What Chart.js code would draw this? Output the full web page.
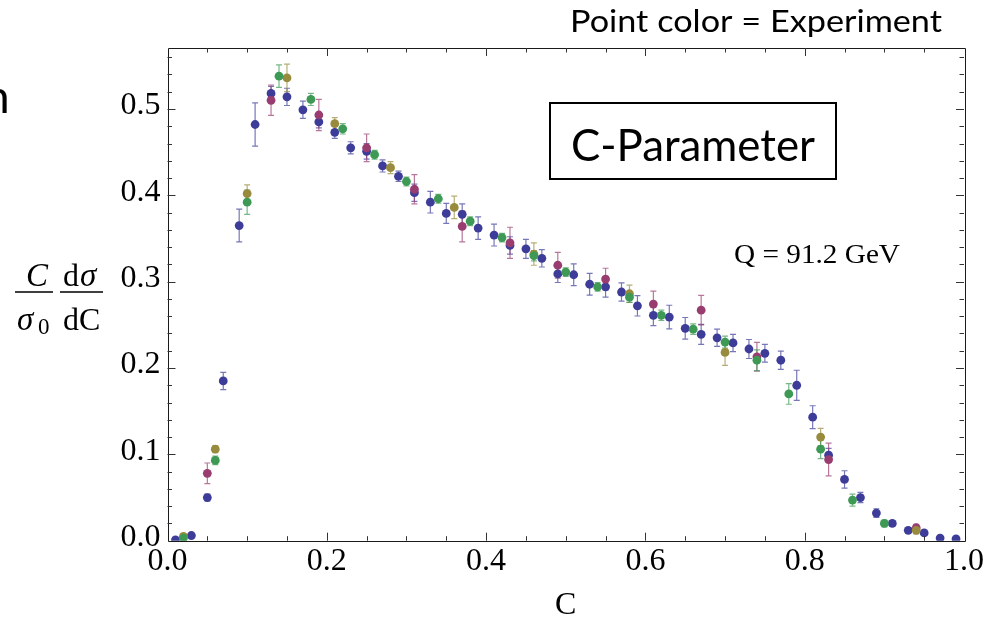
<!DOCTYPE html>
<html><head><meta charset="utf-8">
<script src="https://cdn.jsdelivr.net/npm/chart.js@4.4.1/dist/chart.umd.min.js"></script>
<style>html,body{margin:0;padding:0;background:#fff;overflow:hidden}#wrap{width:986px;height:621px;position:relative}canvas{display:block}</style>
</head><body><div id="wrap"><canvas id="c" width="986" height="621"></canvas></div>
<script>
// ---- data ----
const blueC = [0.01,0.03,0.05,0.07,0.09,0.11,0.13,0.15,0.17,0.19,0.21,0.23,0.25,0.27,0.29,0.31,0.33,0.35,0.37,0.39,0.41,0.43,0.45,0.47,0.49,0.51,0.53,0.55,0.57,0.59,0.61,0.63,0.65,0.67,0.69,0.71,0.73,0.75,0.77,0.79,0.81,0.83,0.85,0.87,0.89,0.91,0.93,0.95,0.97,0.99];
const blueY = [0.001,0.006,0.050,0.185,0.365,0.482,0.518,0.514,0.499,0.485,0.473,0.455,0.451,0.434,0.422,0.403,0.392,0.379,0.378,0.362,0.354,0.342,0.338,0.327,0.309,0.308,0.297,0.294,0.288,0.272,0.261,0.259,0.246,0.239,0.235,0.229,0.222,0.217,0.209,0.180,0.143,0.099,0.071,0.050,0.032,0.020,0.012,0.009,0.003,0.002];
const blueErr = [0.001,0.002,0.004,0.010,0.019,0.025,0.008,0.010,0.010,0.007,0.007,0.007,0.009,0.007,0.006,0.010,0.0125,0.0116,0.012,0.013,0.0127,0.010,0.011,0.010,0.010,0.0125,0.0125,0.012,0.0106,0.0118,0.012,0.0137,0.0125,0.0116,0.010,0.010,0.011,0.0103,0.0106,0.0174,0.0133,0.008,0.010,0.006,0.005,0.003,0.003,0.003,0.002,0.001];

const greenC = [0.02,0.06,0.10,0.14,0.18,0.22,0.26,0.30,0.34,0.38,0.42,0.46,0.50,0.54,0.58,0.62,0.66,0.70,0.74,0.78,0.82,0.86,0.90];
const greenY = [0.003,0.093,0.392,0.538,0.511,0.477,0.447,0.416,0.396,0.370,0.351,0.330,0.311,0.294,0.282,0.261,0.245,0.230,0.209,0.170,0.106,0.047,0.020];
const greenErr = [0.002,0.005,0.014,0.013,0.007,0.006,0.005,0.005,0.005,0.005,0.005,0.006,0.005,0.005,0.006,0.006,0.006,0.007,0.012,0.012,0.011,0.007,0.004];

const oliveC = [0.02,0.06,0.10,0.15,0.21,0.28,0.36,0.46,0.58,0.70,0.82,0.94];
const oliveY = [0.005,0.106,0.402,0.536,0.483,0.432,0.386,0.332,0.286,0.218,0.120,0.012];
const oliveErr = [0.002,0.004,0.010,0.016,0.007,0.007,0.013,0.013,0.010,0.015,0.010,0.004];

const magC = [0.05,0.13,0.19,0.25,0.31,0.37,0.43,0.49,0.55,0.61,0.67,0.74,0.83,0.94];
const magY = [0.078,0.510,0.493,0.455,0.407,0.364,0.345,0.319,0.303,0.274,0.267,0.213,0.094,0.015];
const magErr = [0.012,0.0175,0.018,0.016,0.017,0.018,0.018,0.015,0.0125,0.015,0.017,0.0166,0.019,0.004];

const xTickLabels = ['0.0','0.2','0.4','0.6','0.8','1.0'];
const yTickLabels = ['0.0','0.1','0.2','0.3','0.4','0.5'];

// ---- styling ----
const COL = {
  blue: [61,61,153], mag: [153,61,113], olive: [153,139,61], green: [61,153,84]
};
const rgb = (c,a) => a===undefined ? `rgb(${c[0]},${c[1]},${c[2]})` : `rgba(${c[0]},${c[1]},${c[2]},${a})`;

function pts(xs, ys, es){ return xs.map((x,i)=>({x:x, y:ys[i], e:es[i]})); }
function ds(label, xs, ys, es, c){
  return { label, data: pts(xs,ys,es), backgroundColor: rgb(c), borderColor: rgb(c), borderWidth: 0,
    pointRadius: 4.4, pointHoverRadius: 4.4, showLine:false, clip: 0, errColor: rgb(c,0.7) };
}

const SERIF = '"Liberation Serif","DejaVu Serif",serif';
const SANS = 'Lato, "Open Sans", sans-serif';

const errorBars = {
  id:'errorBars',
  beforeDatasetsDraw(chart){
    const ctx = chart.ctx, xs = chart.scales.x, ys = chart.scales.y, a = chart.chartArea;
    ctx.save();
    ctx.beginPath(); ctx.rect(a.left, a.top, a.right-a.left, a.bottom-a.top); ctx.clip();
    for (let d = chart.data.datasets.length-1; d>=0; d--){
      const set = chart.data.datasets[d];
      ctx.strokeStyle = set.errColor; ctx.lineWidth = 1.2;
      set.data.forEach(p=>{
        if (!p.e) return;
        const px = xs.getPixelForValue(p.x);
        const y1 = ys.getPixelForValue(p.y + p.e), y2 = ys.getPixelForValue(p.y - p.e);
        if (Math.abs(y2-y1) < 3) return;
        ctx.beginPath();
        ctx.moveTo(px, y1); ctx.lineTo(px, y2);
        ctx.moveTo(px-3, y1); ctx.lineTo(px+3, y1);
        ctx.moveTo(px-3, y2); ctx.lineTo(px+3, y2);
        ctx.stroke();
      });
    }
    ctx.restore();
  }
};

function fitText(ctx, text, font, x, y, width){
  ctx.font = font;
  const w = ctx.measureText(text).width;
  ctx.save(); ctx.translate(x, y); ctx.scale(width/w, 1); ctx.fillText(text, 0, 0); ctx.restore();
}

const frameTicks = {
  id:'frameTicks',
  afterDatasetsDraw(chart){
    const ctx = chart.ctx, xs = chart.scales.x, ys = chart.scales.y, a = chart.chartArea;
    ctx.save();
    ctx.strokeStyle = '#1a1a1a'; ctx.lineWidth = 1;
    ctx.beginPath();
    ctx.rect(Math.round(a.left)+0.5, Math.round(a.top)+0.5, Math.round(a.right-a.left), Math.round(a.bottom-a.top));
    ctx.stroke();
    ctx.strokeStyle = '#333'; ctx.lineWidth = 1;
    ctx.beginPath();
    for (let k=1;k<20;k++){
      const v = k*0.05, px = Math.round(xs.getPixelForValue(v))+0.5;
      const L = (k%4===0) ? 8 : 4.5;
      ctx.moveTo(px, a.bottom); ctx.lineTo(px, a.bottom-L);
      ctx.moveTo(px, a.top); ctx.lineTo(px, a.top+L);
    }
    for (let k=1;k<=28;k++){
      const v = k*0.02; if (v > ys.max) break;
      const py = Math.round(ys.getPixelForValue(v))+0.5;
      const L = (k%5===0) ? 8 : 4.5;
      ctx.moveTo(a.left, py); ctx.lineTo(a.left+L, py);
      ctx.moveTo(a.right, py); ctx.lineTo(a.right-L, py);
    }
    ctx.stroke();
    ctx.restore();
  },
  afterDraw(chart){
    const ctx = chart.ctx, a = chart.chartArea;
    ctx.save();
    ctx.fillStyle = '#000';
    ctx.textBaseline = 'alphabetic'; ctx.textAlign = 'left';
    // top-right note
    fitText(ctx, 'Point color = Experiment', '31px ' + SANS, 570, 32, 372);
    // cropped letter at left edge
    ctx.font = '46px ' + SANS;
    ctx.fillText('n', -16, 113);
    // C-Parameter box
    ctx.lineWidth = 2; ctx.strokeStyle = '#000';
    ctx.strokeRect(550, 103, 286, 76);
    fitText(ctx, 'C-Parameter', '44px ' + SANS, 571, 161, 244);
    // Q label
    fitText(ctx, 'Q = 91.2 GeV', '28px ' + SERIF, 734, 263, 166);
    // x axis title
    ctx.font = '32px ' + SERIF; ctx.textAlign = 'center';
    ctx.fillText('C', (a.left+a.right)/2, 614);
    // y axis title: fraction
    ctx.font = 'italic 33px ' + SERIF; ctx.textAlign = 'center';
    ctx.fillText('C', 37, 286);
    ctx.textAlign = 'left';
    ctx.fillText('\u03C3', 17, 330);
    ctx.font = '23px ' + SERIF;
    ctx.fillText('0', 38, 334);
    ctx.font = '32px ' + SERIF;
    ctx.fillText('d', 63, 286);
    ctx.font = 'italic 33px ' + SERIF;
    ctx.fillText('\u03C3', 80, 286);
    ctx.font = '32px ' + SERIF;
    ctx.fillText('dC', 63, 330);
    ctx.lineWidth = 1.6; ctx.strokeStyle = '#000';
    ctx.beginPath();
    ctx.moveTo(15, 292); ctx.lineTo(53, 292);
    ctx.moveTo(60, 292); ctx.lineTo(103, 292);
    ctx.stroke();
    ctx.restore();
  }
};

new Chart(document.getElementById('c'), {
  type: 'scatter',
  data: { datasets: [
    ds('Experiment 4', greenC, greenY, greenErr, COL.green),
    ds('Experiment 3', oliveC, oliveY, oliveErr, COL.olive),
    ds('Experiment 2', magC, magY, magErr, COL.mag),
    ds('Experiment 1', blueC, blueY, blueErr, COL.blue)
  ]},
  options: {
    responsive: false, animation: false, devicePixelRatio: 1,
    layout: { padding: { left: 0, top: 48, right: 19.5, bottom: 0 } },
    plugins: { legend: { display: false }, tooltip: { enabled: false } },
    scales: {
      x: {
        type: 'linear', min: 0, max: 1,
        afterFit(s){ s.height = 80.3; },
        grid: { display: false, drawTicks: false }, border: { display: false },
        ticks: { stepSize: 0.2, maxRotation: 0, autoSkip: false, includeBounds: false, padding: 2,
          color: '#000', font: { family: SERIF, size: 32 },
          callback: (v) => xTickLabels[Math.round(v/0.2)] }
      },
      y: {
        type: 'linear', min: 0, max: 0.5706,
        afterFit(s){ s.width = 167.5; },
        grid: { display: false, drawTicks: false }, border: { display: false },
        ticks: { stepSize: 0.1, autoSkip: false, includeBounds: false, padding: 7, labelOffset: -3,
          color: '#000', font: { family: SERIF, size: 32 },
          callback: (v) => yTickLabels[Math.round(v/0.1)] }
      }
    }
  },
  plugins: [errorBars, frameTicks]
});
</script>
</body></html>
